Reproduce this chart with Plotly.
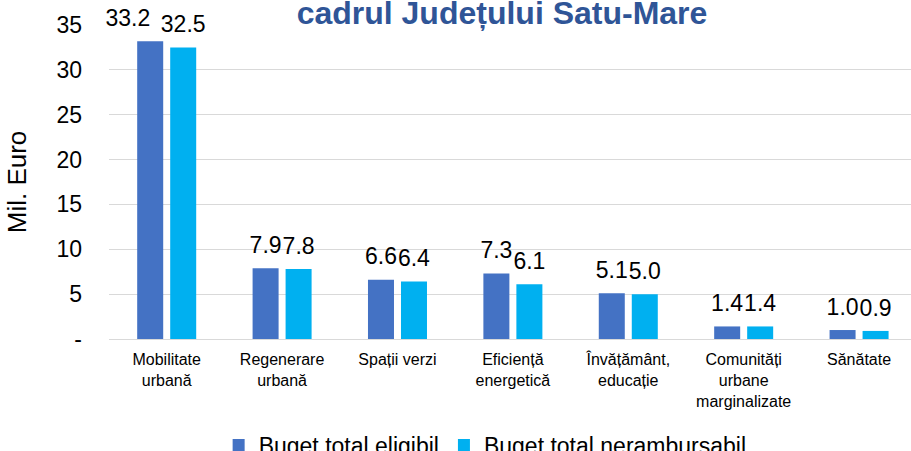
import plotly.graph_objects as go

categories = ["Mobilitate<br>urbană", "Regenerare<br>urbană", "Spații verzi",
              "Eficiență<br>energetică", "Învățământ,<br>educație",
              "Comunități<br>urbane<br>marginalizate", "Sănătate"]
eligibil = [33.2, 7.9, 6.6, 7.3, 5.1, 1.4, 1.0]
nerambursabil = [32.5, 7.8, 6.4, 6.1, 5.0, 1.4, 0.9]
series_names = ["Buget total eligibil", "Buget total nerambursabil"]
y_ticks = [0, 5, 10, 15, 20, 25, 30, 35]
y_ticktext = ["-", "5", "10", "15", "20", "25", "30", "35"]

FONT = "Liberation Sans, Arial, sans-serif"
W, H = 911, 451
L, T, B = 109, 25, 112


def labels(vals, shift_first=False):
    out = []
    for i, v in enumerate(vals):
        pad = "&nbsp;" * 7 if (shift_first and i == 0) else ""
        out.append(f"<span style='font-size:23px'>{v:.1f}{pad}</span><br> ")
    return out


fig = go.Figure()
for name, vals, col, sh in [(series_names[0], eligibil, "#4472C4", True),
                            (series_names[1], nerambursabil, "#00B0F0", False)]:
    fig.add_trace(go.Bar(
        x=categories, y=vals, name=name,
        marker=dict(color=col, line=dict(width=0)),
        text=labels(vals, sh), textposition="outside", constraintext="none",
        textfont=dict(family=FONT, size=8, color="#000000"),
        cliponaxis=False, hoverinfo="skip",
    ))

fig.update_layout(
    width=W, height=H,
    margin=dict(l=L, r=0, t=T, b=B, autoexpand=False),
    paper_bgcolor="white", plot_bgcolor="white",
    barmode="group", bargap=0.428, bargroupgap=0.212,
    font=dict(family=FONT, color="#000000"),
    title=dict(text="<b>cadrul Județului Satu-Mare</b>",
               font=dict(family=FONT, size=32, color="#2F5597"),
               x=502 / W, xanchor="center", xref="container",
               y=1 - 24 / H, yanchor="bottom", yref="container"),
    xaxis=dict(range=[-0.5, 6.45], showgrid=False, showline=False,
               tickfont=dict(family=FONT, size=16, color="#000000"),
               ticks="", ticklabelstandoff=9, automargin=False),
    yaxis=dict(range=[0, 35], tickvals=y_ticks, ticktext=y_ticktext,
               showgrid=True, gridcolor="#D9D9D9", gridwidth=1.3,
               zeroline=True, zerolinecolor="#D9D9D9", zerolinewidth=1.3,
               showline=False, ticks="", ticklabelstandoff=26,
               tickfont=dict(family=FONT, size=23, color="#000000"),
               title=dict(text="Mil. Euro", standoff=22,
                          font=dict(family=FONT, size=26, color="#000000")),
               automargin=False),
    legend=dict(orientation="h", x=0.469, xanchor="center",
                y=(339 - 445) / 314, yanchor="middle",
                font=dict(family=FONT, size=23, color="#000000"),
                bgcolor="rgba(0,0,0,0)", itemclick=False),
    showlegend=True,
)

fig.write_html("out.html",
               config={"displayModeBar": False},
               post_script="document.body.style.margin='0';"
                           "document.body.style.padding='0';")
